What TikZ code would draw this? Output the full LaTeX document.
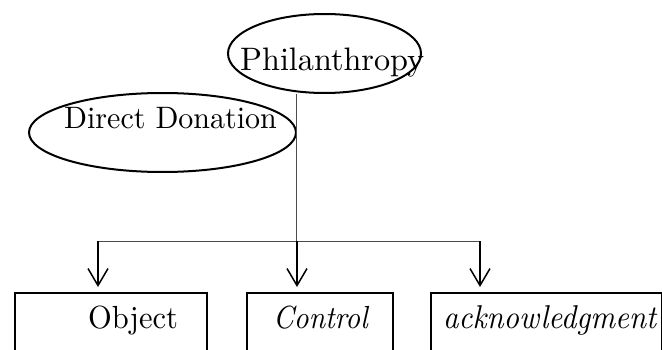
\documentclass[tikz,border=0pt]{standalone}
\usepackage{graphicx}
\usetikzlibrary{arrows.meta,shapes.geometric}
\begin{document}
\begin{tikzpicture}[x=1pt,y=1pt,
  oval/.style={ellipse, draw, line width=2pt, inner sep=0pt},
  lbl/.style={inner sep=0pt, anchor=base west},
  boxx/.style={draw, line width=2pt, anchor=north west, inner sep=0pt, minimum height=100pt},
  stem/.style={draw=black!70, line width=1pt},
  arr/.style={line width=1.5pt, -{Straight Barb[length=17pt,width=20pt]}, shorten >=5pt}]
\useasboundingbox (0,0) rectangle (662,349);
\clip (0,0) rectangle (662,349);
% ellipses
\node[oval, minimum width=193pt, minimum height=79pt] (phil) at (324.5,295.5) {};
\node[oval, minimum width=267pt, minimum height=79pt] (dd) at (162.5,216.5) {};
\node[lbl] (philt) at (240,279) {\scalebox{3.22}[3.25]{Philanthropy}};
\node[lbl] (ddt) at (64,220) {\scalebox{3.0}[3.1]{Direct Donation}};
% boxes
\node[boxx, minimum width=192pt] (obj) at (14,57) {};
\node[boxx, minimum width=146pt] (ctl) at (246,57) {};
\node[boxx, minimum width=231pt] (ack) at (430,57) {};
\node[lbl] (objt) at (88,21) {\scalebox{3.05}[3.2]{Object}};
\node[lbl] (ctlt) at (273,21) {\scalebox{2.9}[3.2]{\itshape Control}};
\node[lbl] (ackt) at (443,21) {\scalebox{3.03}[3.3]{\itshape acknowledgment}};
% connectors
\coordinate (tr) at (296,108);
\coordinate (j1) at (98,108);
\coordinate (j2) at (297,108);
\coordinate (j3) at (480,108);
\draw[stem] (phil.south -| tr) -- (tr);
\draw[stem] (j1) -- (j3);
\draw[arr] (j1) -- (j1 |- obj.north);
\draw[arr] (j2) -- (j2 |- ctl.north);
\draw[arr] (j3) -- (j3 |- ack.north);
\end{tikzpicture}
\end{document}
